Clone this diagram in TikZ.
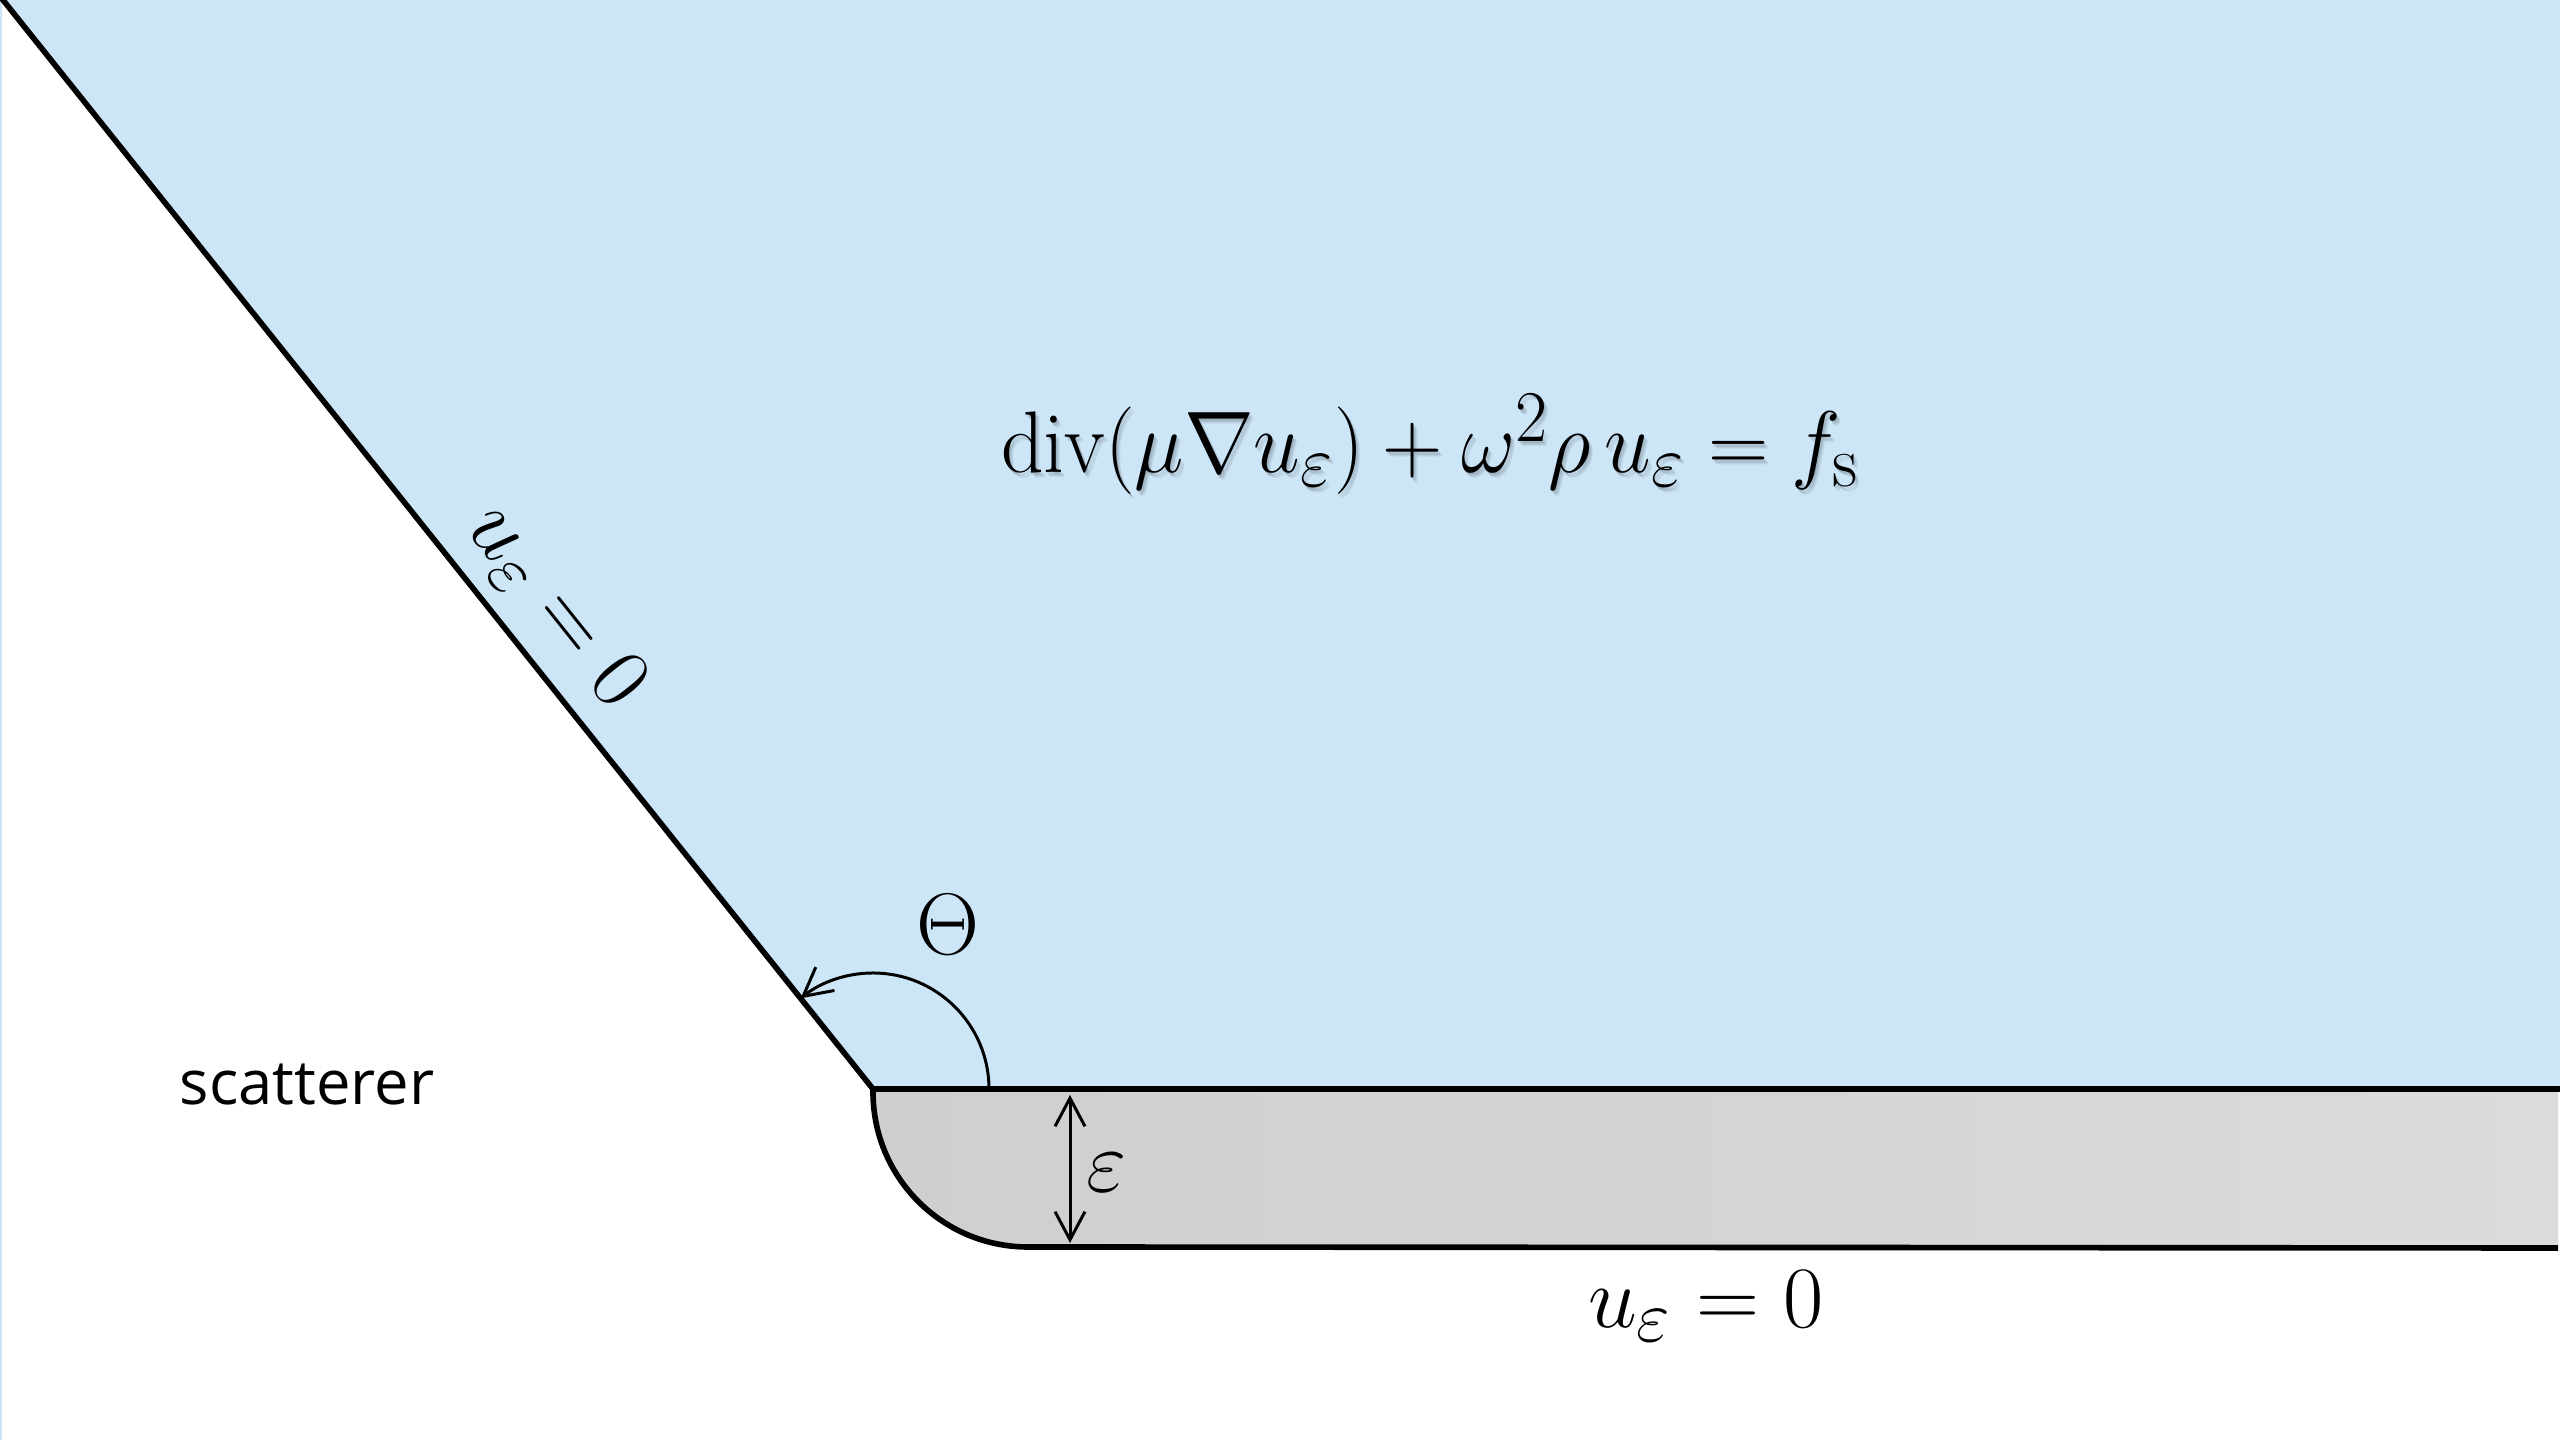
\documentclass[tikz,border=0pt]{standalone}
\usepackage{amsmath}
\usepackage{fontspec}
\newfontfamily\scatfont{Open Sans}
\usetikzlibrary{arrows.meta}
\definecolor{skyfill}{RGB}{204,229,247}
\definecolor{grayL}{RGB}{207,206,208}
\definecolor{grayR}{RGB}{219,219,219}
\newcommand{\pdeeq}{\scalebox{0.956}[1]{$\operatorname{div}(\mu\nabla u_\varepsilon)+\omega^2\rho\, u_\varepsilon=f_{\mathrm{s}}$}}
\tikzset{
  wall/.style={line width=1.6pt, line join=miter},
  thinarrow/.style={line width=0.85pt, -{Straight Barb[length=8pt,width=8.5pt]}},
  dblarrow/.style={line width=0.85pt, {Straight Barb[length=8pt,width=8.5pt]}-{Straight Barb[length=8pt,width=8.5pt]}},
  mathlabel/.style={inner sep=0pt, font=\Huge},
}
\begin{document}
\begin{tikzpicture}[x=0.01cm,y=0.01cm]
\useasboundingbox (0,0) rectangle (2560,1440);
\clip (0,0) rectangle (2560,1440);
\fill[white] (0,0) rectangle (2560,1440);
\coordinate (C) at (873,351);
\coordinate (T) at (-1,1445);
\coordinate (R) at (2562,351);
% blue domain
\fill[skyfill] (T) -- (C) -- (R) -- (2562,1445) -- cycle;
\fill[skyfill] (0,0) rectangle (2,1440);
% gray layer
\shade[left color=grayL, right color=grayR] (C) -- (2558,351) -- (2558,192) -- (1028,193)
  arc[start angle=270, end angle=180, radius=155] -- cycle;
% boundaries
\draw[wall] (R) -- (C) -- (T);
\draw[wall] (C) -- (873,348) arc[start angle=180, end angle=270, radius=155] -- (2558,192);
% angle Theta
\coordinate (A0) at (989,351);
\draw[thinarrow] (A0) arc[start angle=0, end angle=128.6, radius=116];
\node[mathlabel] (theta) at (948,515) {$\Theta$};
% epsilon thickness
\coordinate (E1) at (1070,345);
\coordinate (E2) at (1070,197);
\draw[dblarrow] (E1) -- (E2);
\node[mathlabel] (eps) at (1107,267) {$\varepsilon$};
% equation with soft shadow
\foreach \dx/\dy in {1/-2,2/-3,3/-4,4/-5}{
  \node[mathlabel, anchor=base, text=black, opacity=0.06] at (1430+\dx,967+\dy) {\pdeeq};
}
\node[mathlabel, anchor=base] (eq) at (1430,967) {\pdeeq};
% boundary conditions
\node[mathlabel, anchor=base] (bcbottom) at (1706,112) {$u_\varepsilon=0$};
\node[mathlabel, rotate=-51.4] (bcslant) at (555,833) {$u_\varepsilon=0$};
% scatterer
\node[inner sep=0pt, anchor=base, font=\scatfont\fontsize{17.5}{20}\selectfont] (scat) at (307,335) {scatterer};
\end{tikzpicture}
\end{document}
